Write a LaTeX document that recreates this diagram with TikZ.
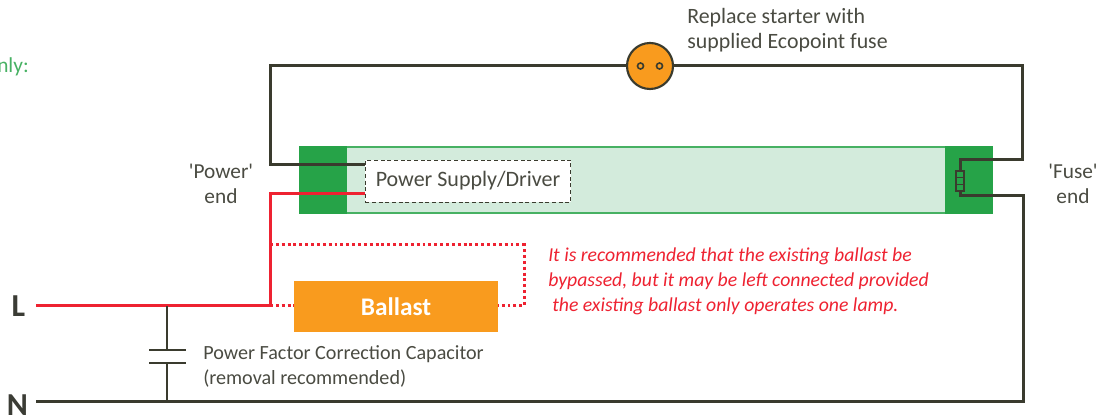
\documentclass[tikz,border=0pt]{standalone}
\usepackage{fontspec}
\setmainfont{Carlito}
\usetikzlibrary{calc}
\definecolor{wirecol}{HTML}{3A3B2E}
\definecolor{redcol}{HTML}{EE2231}
\definecolor{tubecol}{HTML}{26A348}
\definecolor{tubelight}{HTML}{D3EBDC}
\definecolor{orangecol}{HTML}{F99B1E}
\definecolor{labelcol}{HTML}{4A4B42}
\tikzset{
  font={\fontsize{16pt}{18.75pt}\selectfont},
  wire/.style={draw=wirecol, line width=2.25pt, line join=miter},
  thinwire/.style={draw=wirecol, line width=2pt},
  redwire/.style={draw=redcol, line width=2.25pt},
  reddots/.style={draw=redcol, line width=2.25pt, dash pattern=on 2.2pt off 2.2pt},
  textlabel/.style={text=labelcol, inner sep=0pt, align=left},
  endlabel/.style={text=labelcol, inner sep=0pt, align=center},
  tubecap/.style={fill=tubecol, draw=none, inner sep=0pt, minimum width=36pt, minimum height=51pt},
  linename/.style={text=labelcol!80!black, inner sep=0pt, font={\fontsize{24pt}{26pt}\selectfont\bfseries}},
}
\begin{document}
\begin{tikzpicture}[x=0.75pt, y=-0.75pt]
     \useasboundingbox (0,0) rectangle (1117,416);

     %% tube
     \node[fill=tubelight, draw=tubecol!85!white, line width=1.5pt, inner sep=0pt, minimum width=519pt, minimum height=49.5pt] (tube) at (646,180) {};
     \node[tubecap] (capleft) at (323,180) {};
     \node[tubecap] (capright) at (969,180) {};

     %% corners of the wires
     \coordinate (topleft) at (270,66);
     \coordinate (topright) at (1022,66);
     \coordinate (fuseup) at (1022,160);
     \coordinate (fuseupin) at (960,160);
     \coordinate (fusedownin) at (960,196);
     \coordinate (fusedown) at (1023,196);
     \coordinate (botright) at (1023,402);
     \coordinate (nend) at (36,402);
     \coordinate (lend) at (36,306);
     \coordinate (ljoin) at (270,306);
     \coordinate (lcap) at (167,306);
     \coordinate (ncap) at (167,402);
     \coordinate (redcorner) at (270,194);
     \coordinate (blackcorner) at (270,165);
     \coordinate (dotstart) at (270,245);
     \coordinate (dotcorner) at (524,245);
     \coordinate (dotend) at (524,306);

     \node[draw=wirecol, densely dashed, line width=0.6pt, fill=white, minimum width=154pt, minimum height=31.5pt, inner sep=0pt, text=labelcol, font={\fontsize{16.5pt}{18pt}\selectfont}] (driver) at (468,181) {Power Supply/Driver};
     \node[fill=orangecol, minimum width=153pt, minimum height=38pt, inner sep=0pt, text=white, font={\fontsize{19pt}{20pt}\selectfont\bfseries}] (ballast) at (396,306.5) {Ballast};
     \node[circle, fill=orangecol, draw=wirecol, line width=1.6pt, minimum size=34.5pt, inner sep=0pt] (starter) at (650,66) {};
     \node[circle, draw=wirecol, line width=1.2pt, minimum size=4.5pt, inner sep=0pt] (holea) at (640.5,66) {};
     \node[circle, draw=wirecol, line width=1.2pt, minimum size=4.5pt, inner sep=0pt] (holeb) at (659.5,66) {};

     %% black wires
     \draw[wire] (driver.west |- blackcorner) -- (blackcorner) -- (topleft) -- (starter);
     \draw[wire] (starter) -- (topright) -- (fuseup) -- (fuseupin) -- (960,170);
     \draw[wire] (960,192) -- (fusedownin) -- (fusedown) -- (botright) -- (nend);

     %% fuse
     \node[draw=wirecol, line width=1.6pt, minimum width=6.5pt, minimum height=15.5pt, inner sep=0pt] (fuse) at (960,181) {};
     \draw[wirecol, line width=1.3pt] (955,177.5) -- (965,177.5) (955,184.5) -- (965,184.5);

     %% red wires
     \draw[redwire] (driver.west |- redcorner) -- (redcorner) -- (ljoin) -- (lend);
     \draw[reddots] (dotstart) -- (dotcorner) -- (dotend) -- (ballast.east |- dotend);
     \draw[reddots] (ljoin) -- (ballast.west |- ljoin);

     %% capacitor
     \coordinate (plateup) at (167,350);
     \coordinate (platedown) at (167,363);
     \draw[thinwire] (lcap) -- (plateup);
     \draw[thinwire] (platedown) -- (ncap);
     \draw[thinwire] (149,350) -- (186,350);
     \draw[thinwire] (149,363) -- (186,363);

     %% labels
     \node[linename] (linelabel) at (18.5,306) {L};
     \node[linename] (neutrallabel) at (17.5,405) {N};
     \node[endlabel] (powerend) at (221,184) {\textquotesingle Power\textquotesingle\\end};
     \node[endlabel] (fuseend) at (1073,184) {\textquotesingle Fuse\textquotesingle\\end};
     \node[textlabel, anchor=west, font={\fontsize{16.4pt}{18.75pt}\selectfont}] (startertext) at (687,30.5) {Replace starter with\\supplied Ecopoint fuse};
     \node[textlabel, anchor=west, font={\fontsize{15.1pt}{18.75pt}\selectfont}] (captext) at (203,366.5) {Power Factor Correction Capacitor\\(removal recommended)};
     \node[textlabel, anchor=west, text=redcol, font={\fontsize{14.8pt}{18.75pt}\selectfont\itshape}] (redtext) at (548,281) {It is recommended that the existing ballast be\\bypassed, but it may be left connected provided\\\hspace*{3pt}the existing ballast only operates one lamp.};
     \node[text=tubecol!85!white, anchor=east, inner sep=0pt] (onlytext) at (29,67) {nly:};
\end{tikzpicture}
\end{document}
